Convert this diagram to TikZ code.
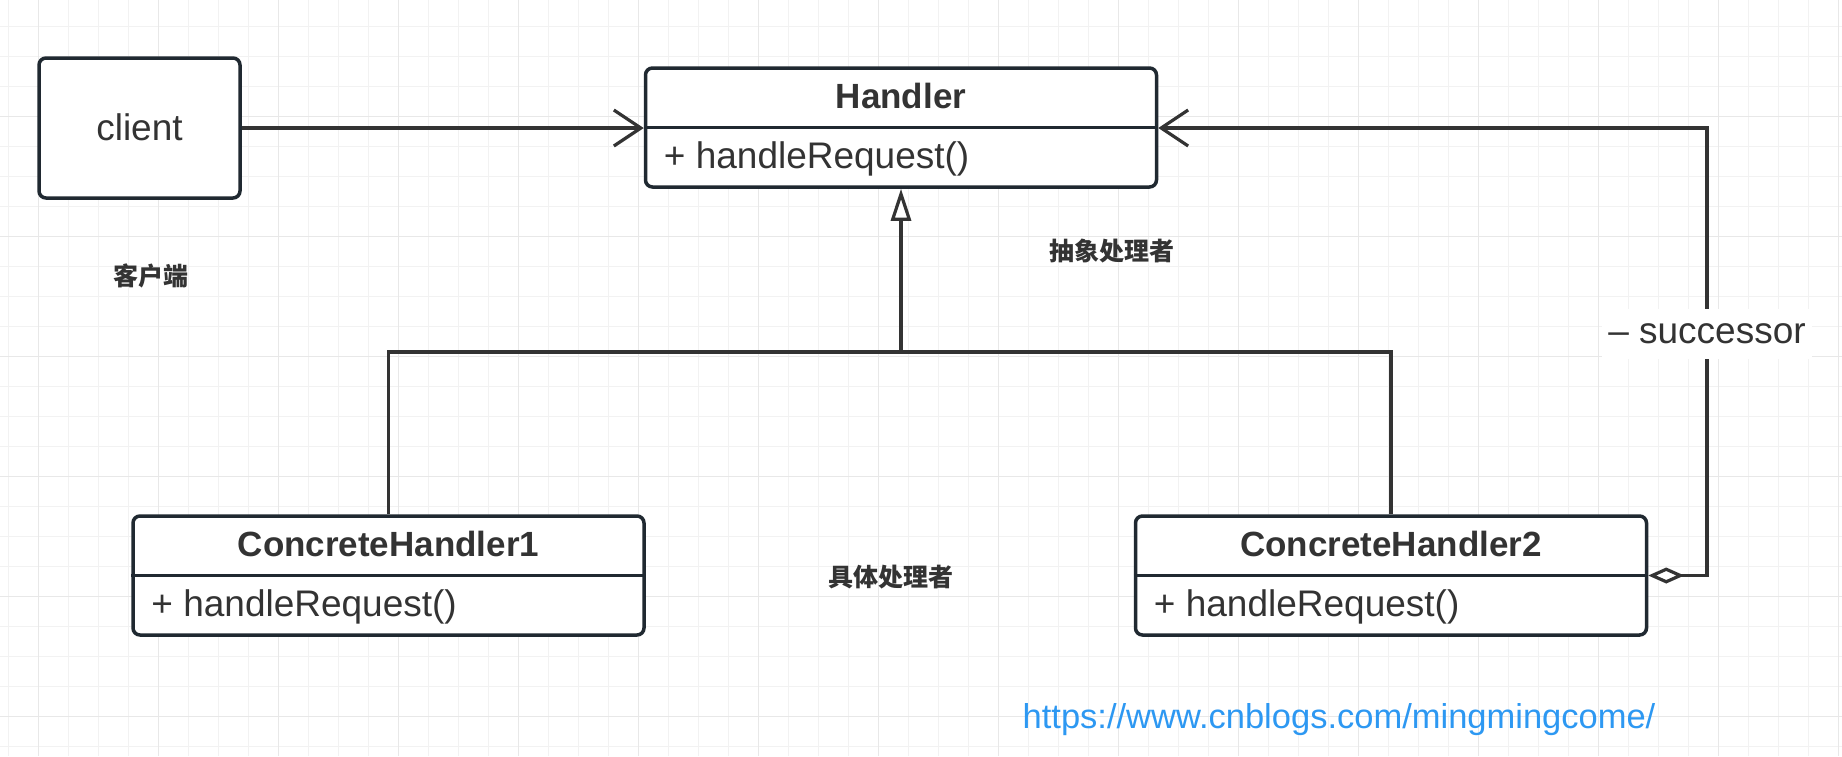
\documentclass[tikz,border=0pt]{standalone}
\usepackage{fontspec}
\setmainfont{Liberation Sans}
\newfontfamily\cjk{Noto Sans CJK SC}
\usepackage{tikz}
\usetikzlibrary{positioning, arrows.meta}
\usepackage{xcolor}

\definecolor{inkgray}{RGB}{51,51,51}
\definecolor{boxline}{RGB}{32,41,49}
\definecolor{gridlight}{RGB}{242,242,242}
\definecolor{gridmid}{RGB}{232,232,232}
\definecolor{linkblue}{RGB}{45,152,242}

\begin{document}
\begin{tikzpicture}[x=1pt, y=-1pt,
    classbox/.style={draw=boxline, line width=3.5pt, rounded corners=7pt, fill=white, inner sep=0pt, minimum width=511pt, minimum height=119pt},
    classname/.style={anchor=base, inner sep=0pt, text=inkgray, font=\fontsize{35}{42}\selectfont\bfseries},
    member/.style={anchor=base west, inner sep=0pt, text=inkgray, font=\fontsize{37}{44}\selectfont},
    note/.style={inner sep=0pt, text=inkgray, font=\cjk\fontsize{25}{30}\selectfont\bfseries},
    wire/.style={draw=inkgray, line width=3.2pt},
    divider/.style={draw=boxline, line width=3.5pt}]

    % Canvas and grid
    \fill[white] (0,0) rectangle (1842,756);
    \useasboundingbox (0,0) rectangle (1842,756);
    \foreach \gx in {0,...,61} \draw[gridlight, line width=1.3pt] ({8.7+30*\gx},0) -- ({8.7+30*\gx},756);
    \foreach \gy in {0,...,24} \draw[gridlight, line width=1.3pt] (0,{26.7+30*\gy}) -- (1842,{26.7+30*\gy});
    \foreach \gx in {0,...,15} \draw[gridmid, line width=1.5pt] ({38.7+120*\gx},0) -- ({38.7+120*\gx},756);
    \foreach \gy in {0,...,5} \draw[gridmid, line width=1.5pt] (0,{116.7+120*\gy}) -- (1842,{116.7+120*\gy});

    % Client
    \node[classbox, minimum width=201pt, minimum height=140pt] (client) at (139.5, 128) {};
    \node[member, anchor=base] (clientText) at (139.5, 140) {client};
    \node[note] (clientNote) at (151, 276) {客户端};

    % Classes
    \node[classbox] (handler) at (901, 127.5) {};
    \node[classbox] (chOne) at (388.5, 575.5) {};
    \node[classbox] (chTwo) at (1391, 575.5) {};

    \draw[divider] (handler.west) -- (handler.east);
    \draw[divider] (chOne.west) -- (chOne.east);
    \draw[divider] (chTwo.west) -- (chTwo.east);

    \node[classname] (handlerName) at ([yshift=-42.5pt]handler.north) {Handler};
    \node[member] (handlerOp) at ([xshift=20pt, yshift=-102.5pt]handler.north west) {+ handleRequest()};
    \node[classname] (chOneName) at ([yshift=-42.5pt]chOne.north) {ConcreteHandler1};
    \node[member] (chOneOp) at ([xshift=20pt, yshift=-102.5pt]chOne.north west) {+ handleRequest()};
    \node[classname] (chTwoName) at ([yshift=-42.5pt]chTwo.north) {ConcreteHandler2};
    \node[member] (chTwoOp) at ([xshift=20pt, yshift=-102.5pt]chTwo.north west) {+ handleRequest()};

    \node[note] (abstractNote) at (1111.5, 251) {抽象处理者};
    \node[note] (concreteNote) at (890.5, 577) {具体处理者};

    % Association: client uses handler
    \draw[wire, -{Straight Barb[length=27pt, width=36pt]}] (client.east) -- (client.east -| handler.west);

    % Generalization
    \coordinate (bus) at (901, 352);
    \draw[wire] (chOne.north) |- (bus) -| (chTwo.north);
    \draw[wire, -{Triangle[length=32pt, width=20pt, fill=white]}] (bus) -- (handler.south);

    % Successor aggregation
    \coordinate (turn) at (1707, 128);
    \draw[wire, {Diamond[length=36pt, width=16pt, fill=white]}-{Straight Barb[length=27pt, width=36pt]}]
        (chTwo.east) -| (turn) -- (turn -| handler.east);
    \node[fill=white, inner xsep=6pt, inner ysep=0pt, minimum height=50pt, text=inkgray,
          font=\fontsize{37}{44}\selectfont] (successor) at (1707, 334) {– successor};

    % Source link
    \node[anchor=base, inner sep=0pt, text=linkblue, font=\fontsize{34.5}{41}\selectfont] (source) at (1339, 728)
        {https://www.cnblogs.com/mingmingcome/};

\end{tikzpicture}
\end{document}
